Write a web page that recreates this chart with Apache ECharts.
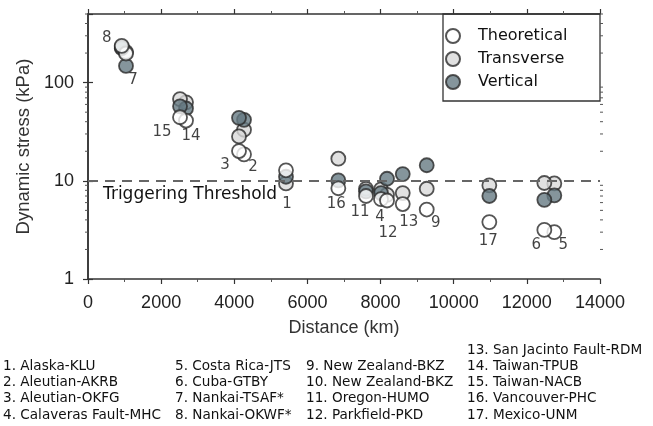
<!DOCTYPE html>
<html>
<head>
<meta charset="utf-8">
<script src="https://cdn.jsdelivr.net/npm/echarts@6/dist/echarts.min.js"></script>
<style>
  html, body { margin: 0; padding: 0; background: #fff; }
  #chart { width: 653px; height: 426px; }
</style>
</head>
<body>
<div id="chart"></div>
<script>
// stations shown on the plot (10 shares the site of 9 and has no marker label)
const stationNo = [1, 2, 3, 4, 5, 6, 7, 8, 9, 11, 12, 13, 14, 15, 16, 17]
const distanceKm = [5414, 4266, 4129, 8012, 12751, 12478, 1039, 922, 9262, 7602, 8176, 8606, 2680, 2516, 6845, 10974]
const theoretical = [12.8, 18.6, 20.1, 6.5, 3.0, 3.16, 198, 237, 5.1, 7.0, 6.3, 5.8, 41.1, 44.4, 8.4, 3.8]
const transverse = [9.4, 33.1, 28.3, 8.2, 9.4, 9.5, 205, 224, 8.3, 8.3, 7.2, 7.5, 63, 68, 16.8, 9.0]
const vertical = [11, 41.8, 43.8, 7.5, 7.1, 6.4, 148, 230, 14.4, 7.8, 10.5, 11.7, 54.5, 57.4, 10.1, 7.0]
const threshold = 10

const stationNames = [
  'Alaska-KLU', 'Aleutian-AKRB', 'Aleutian-OKFG', 'Calaveras Fault-MHC',
  'Costa Rica-JTS', 'Cuba-GTBY', 'Nankai-TSAF*', 'Nankai-OKWF*',
  'New Zealand-BKZ', 'New Zealand-BKZ', 'Oregon-HUMO', 'Parkfield-PKD',
  'San Jacinto Fault-RDM', 'Taiwan-TPUB', 'Taiwan-NACB', 'Vancouver-PHC', 'Mexico-UNM',
]

const yMin = 1
const yMax = 500

// where each station number sits relative to its theoretical marker (px)
const labelOffsets = {
  1: [1, 34], 2: [9, 13], 3: [-14, 14], 4: [-1, 18], 5: [9, 13], 6: [-8, 15],
  7: [7, 27], 8: [-15, -8], 9: [9, 14], 11: [-6, 16], 12: [1, 33], 13: [6, 18],
  14: [5, 16], 15: [-18, 15], 16: [-2, 16], 17: [-1, 19],
}

const pairs = (vals) => distanceKm.map((d, i) => [d, vals[i]])

const markerStyle = (color) => ({
  color,
  borderColor: '#2b2b2b',
  borderWidth: 1.8,
})

const theoData = distanceKm.map((d, i) => ({
  value: [d, theoretical[i]],
  label: {
    show: true,
    position: 'inside',
    formatter: String(stationNo[i]),
    offset: labelOffsets[stationNo[i]],
    color: '#111',
    fontSize: 15,
    fontFamily: 'DejaVu Sans',
  },
}))

// log minor ticks at 2..9 of every decade
const minorTickValues = []
for (let dec = yMin; dec < yMax; dec *= 10) {
  for (let k = 2; k <= 9; k++) {
    if (k * dec <= yMax) minorTickValues.push(k * dec)
  }
}

// station list under the chart
const listGraphics = []
const colX = [3, 175, 306, 467]
stationNames.forEach((name, i) => {
  const n = i + 1
  let col, row, y
  if (n <= 12) {
    col = Math.floor(i / 4)
    row = i % 4
    y = 366.5 + row * 16.2
  } else {
    col = 3
    row = n - 13
    y = 350.3 + row * 16.2
  }
  listGraphics.push({
    type: 'text',
    x: colX[col],
    y,
    style: {
      text: `${n}. ${name}`,
      fill: '#111',
      font: '13.6px "DejaVu Sans"',
      textVerticalAlign: 'middle',
    },
  })
})

const axisCommon = {
  axisLine: { show: true, lineStyle: { color: '#333', width: 1.5 } },
  axisTick: { show: true, length: 5, lineStyle: { color: '#333', width: 1.2 } },
  splitLine: { show: false },
}

const chart = echarts.init(document.getElementById('chart'))
chart.setOption({
  animation: false,
  grid: { left: 88, right: 53, top: 14, bottom: 147 },
  xAxis: [
    {
      ...axisCommon,
      type: 'value',
      min: 0,
      max: 14000,
      interval: 2000,
      minorTick: { show: true, splitNumber: 2, length: 3, lineStyle: { color: '#555', width: 1 } },
      name: 'Distance (km)',
      nameLocation: 'middle',
      nameGap: 40,
      nameTextStyle: { color: '#333', fontSize: 18, fontFamily: 'Liberation Sans' },
      axisLabel: {
        color: '#222', fontSize: 18, fontFamily: 'Liberation Sans', margin: 15,
        formatter: (v) => String(v),
      },
    },
    {
      ...axisCommon,
      type: 'value',
      position: 'top',
      min: 0,
      max: 14000,
      interval: 2000,
      minorTick: { show: true, splitNumber: 2, length: 3, lineStyle: { color: '#555', width: 1 } },
      axisLabel: { show: false },
    },
  ],
  yAxis: [
    {
      ...axisCommon,
      type: 'log',
      logBase: 10,
      min: yMin,
      max: yMax,
      name: 'Dynamic stress (kPa)',
      nameLocation: 'middle',
      nameGap: 54,
      nameTextStyle: { color: '#333', fontSize: 18.5, fontFamily: 'Liberation Sans' },
      axisLabel: { color: '#222', fontSize: 18, fontFamily: 'Liberation Sans', margin: 14, showMaxLabel: false },
    },
    {
      ...axisCommon,
      type: 'log',
      logBase: 10,
      min: yMin,
      max: yMax,
      position: 'right',
      axisLabel: { show: false },
    },
  ],
  legend: {
    data: ['Theoretical', 'Transverse', 'Vertical'],
    orient: 'vertical',
    left: 445,
    top: 28,
    padding: 0,
    itemGap: 7,
    itemWidth: 14,
    itemHeight: 14,
    icon: 'circle',
    textStyle: { color: '#111', fontSize: 16, fontFamily: 'DejaVu Sans', padding: [0, 0, 0, 13] },
  },
  graphic: [
    {
      type: 'rect',
      z: -1,
      shape: { x: 443, y: 14, width: 157, height: 87 },
      style: { fill: '#fff', stroke: '#333', lineWidth: 1.3 },
    },
    {
      type: 'text',
      x: 103,
      y: 195,
      style: {
        text: 'Triggering Threshold',
        fill: '#111',
        font: '17px "DejaVu Sans"',
        textVerticalAlign: 'middle',
      },
    },
    ...listGraphics,
  ],
  series: [
    {
      // minor ticks on the left and right log axes
      type: 'custom',
      silent: true,
      clip: false,
      data: minorTickValues,
      encode: { y: 0 },
      renderItem: (params, api) => {
        const v = api.value(0)
        const left = api.coord([0, v])
        const right = api.coord([14000, v])
        const style = { stroke: '#555', lineWidth: 1 }
        return {
          type: 'group',
          children: [
            { type: 'line', shape: { x1: left[0] - 3, y1: left[1], x2: left[0], y2: left[1] }, style },
            { type: 'line', shape: { x1: right[0], y1: right[1], x2: right[0] + 3, y2: right[1] }, style },
          ],
        }
      },
      z: 1,
    },
    {
      name: 'Transverse',
      type: 'scatter',
      symbolSize: 14,
      data: pairs(transverse),
      itemStyle: markerStyle('#d9d9d9'),
      z: 2,
    },
    {
      name: 'Vertical',
      type: 'scatter',
      symbolSize: 14,
      data: pairs(vertical),
      itemStyle: markerStyle('#667b83'),
      z: 3,
    },
    {
      name: 'Theoretical',
      type: 'scatter',
      symbolSize: 14,
      data: theoData,
      itemStyle: markerStyle('#ffffff'),
      z: 4,
      markLine: {
        silent: true,
        symbol: 'none',
        label: { show: false },
        lineStyle: { color: '#666', width: 2, type: [10, 7] },
        data: [{ yAxis: threshold }],
      },
    },
  ],
})
</script>
</body>
</html>
